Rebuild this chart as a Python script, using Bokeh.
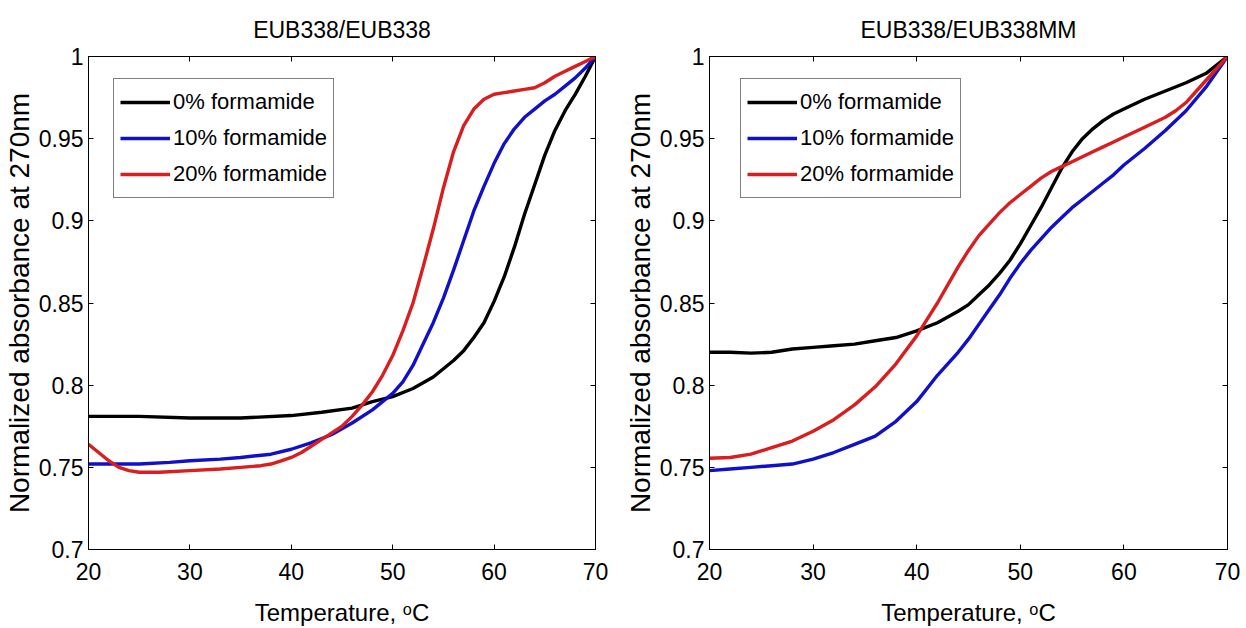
from bokeh.plotting import figure
from bokeh.layouts import row
from bokeh.models import FixedTicker, LinearAxis, Range1d, Legend, LegendItem
from bokeh.embed import file_html
from bokeh.resources import INLINE

# Temperature grid (deg C) and normalized absorbance at 270 nm
labels = ["0% formamide", "10% formamide", "20% formamide"]
colors = ["#000000", "#1010c8", "#d81e1e"]

# EUB338 / EUB338 (perfect match)
pm_temp_0 = [20, 25, 30, 35, 40, 43, 46, 48, 50, 52, 54, 55, 56, 57, 58, 59, 60,
             61, 62, 63, 64, 65, 66, 67, 68, 69, 70]
pm_abs_0 = [0.781, 0.781, 0.780, 0.780, 0.7815, 0.7835, 0.786, 0.790, 0.793, 0.798,
            0.805, 0.810, 0.815, 0.821, 0.829, 0.838, 0.851, 0.866, 0.884, 0.904,
            0.922, 0.940, 0.955, 0.967, 0.977, 0.988, 1.0]
pm_temp_10 = [20, 22, 25, 28, 30, 33, 35, 38, 40, 42, 44, 46, 48, 50, 51, 52, 53, 54,
              55, 56, 57, 58, 59, 60, 61, 62, 63, 64, 65, 66, 67, 68, 69, 70]
pm_abs_10 = [0.752, 0.752, 0.752, 0.753, 0.754, 0.755, 0.756, 0.758, 0.761, 0.765,
             0.770, 0.777, 0.785, 0.795, 0.802, 0.812, 0.825, 0.838, 0.853, 0.870,
             0.888, 0.906, 0.921, 0.935, 0.947, 0.956, 0.963, 0.968, 0.973, 0.977,
             0.982, 0.987, 0.993, 1.0]
pm_temp_20 = [20, 21, 22, 23, 24, 25, 27, 30, 33, 35, 37, 38, 39, 40, 41, 42, 43, 44,
              45, 46, 47, 48, 49, 50, 51, 52, 53, 54, 55, 56, 57, 58, 59, 60, 61, 62,
              63, 64, 65, 66, 67, 68, 69, 70]
pm_abs_20 = [0.764, 0.759, 0.754, 0.750, 0.748, 0.747, 0.747, 0.748, 0.749, 0.750,
             0.751, 0.752, 0.754, 0.756, 0.759, 0.763, 0.767, 0.771, 0.775, 0.781,
             0.788, 0.796, 0.806, 0.818, 0.833, 0.850, 0.872, 0.895, 0.920, 0.942,
             0.958, 0.968, 0.974, 0.977, 0.978, 0.979, 0.980, 0.981, 0.984, 0.988,
             0.991, 0.994, 0.997, 1.0]

# EUB338 / EUB338MM (mismatch)
mm_temp_0 = [20, 22, 24, 26, 28, 30, 32, 34, 36, 38, 40, 42, 44, 45, 46, 47, 48, 49,
             50, 51, 52, 53, 54, 55, 56, 57, 58, 59, 60, 62, 64, 66, 68, 70]
mm_abs_0 = [0.820, 0.820, 0.8195, 0.820, 0.822, 0.823, 0.824, 0.825, 0.827, 0.829,
            0.833, 0.838, 0.845, 0.849, 0.855, 0.861, 0.868, 0.876, 0.886, 0.897,
            0.908, 0.920, 0.932, 0.942, 0.950, 0.956, 0.961, 0.965, 0.968, 0.974,
            0.979, 0.984, 0.990, 1.0]
mm_temp_10 = [20, 22, 24, 26, 28, 30, 32, 34, 36, 38, 40, 41, 42, 43, 44, 45, 46, 47,
              48, 49, 50, 51, 52, 53, 54, 55, 56, 57, 58, 59, 60, 62, 64, 66, 68, 70]
mm_abs_10 = [0.748, 0.749, 0.750, 0.751, 0.752, 0.755, 0.759, 0.764, 0.769, 0.778,
             0.790, 0.798, 0.806, 0.813, 0.820, 0.828, 0.837, 0.846, 0.855, 0.865,
             0.874, 0.882, 0.889, 0.896, 0.902, 0.908, 0.913, 0.918, 0.923, 0.928,
             0.934, 0.944, 0.955, 0.967, 0.982, 1.0]
mm_temp_20 = [20, 22, 24, 26, 28, 30, 32, 34, 36, 38, 40, 41, 42, 43, 44, 45, 46, 47,
              48, 49, 50, 51, 52, 53, 54, 55, 56, 57, 58, 59, 60, 62, 64, 65, 66, 67,
              68, 69, 70]
mm_abs_20 = [0.7555, 0.756, 0.758, 0.762, 0.766, 0.772, 0.779, 0.788, 0.799, 0.813,
             0.830, 0.840, 0.850, 0.861, 0.872, 0.882, 0.891, 0.898, 0.905, 0.911,
             0.916, 0.921, 0.926, 0.930, 0.933, 0.936, 0.939, 0.942, 0.945, 0.948,
             0.951, 0.957, 0.963, 0.967, 0.972, 0.979, 0.986, 0.993, 1.0]

x_ticks = [20, 30, 40, 50, 60, 70]
y_ticks = [0.7, 0.75, 0.8, 0.85, 0.9, 0.95, 1.0]
y_tick_labels = ["0.7", "0.75", "0.8", "0.85", "0.9", "0.95", "1"]

FONT = "Liberation Sans"
FRAME_H = 493


def style_axis(ax, show_labels):
    ax.major_tick_in = 5
    ax.major_tick_out = 0
    ax.minor_tick_in = 0
    ax.minor_tick_out = 0
    ax.axis_line_color = "black"
    ax.major_tick_line_color = "black"
    ax.major_label_text_font = FONT
    ax.major_label_text_color = "black"
    ax.axis_label_text_font = FONT
    ax.axis_label_text_font_style = "normal"
    ax.axis_label_text_color = "black"
    if not show_labels:
        # mirrored axes carry tick marks only
        ax.major_label_text_color = None
        ax.major_label_text_font_size = "1px"
        ax.major_label_standoff = 0


def panel(title, series, frame_w, border_left, border_right, legend_dx):
    p = figure(frame_width=frame_w, frame_height=FRAME_H,
               x_range=Range1d(20, 70), y_range=Range1d(0.7, 1.0),
               output_backend="svg", toolbar_location=None, title=title,
               min_border_left=border_left, min_border_right=border_right,
               min_border_top=56, min_border_bottom=79)
    p.title.align = "center"
    p.title.text_font = FONT
    p.title.text_font_size = "23px"
    p.title.text_font_style = "normal"
    p.title.text_color = "black"
    p.title.standoff = 28
    p.grid.visible = False
    p.outline_line_color = "black"
    p.outline_line_alpha = 1.0
    p.background_fill_color = "white"
    p.border_fill_color = "white"

    xt = FixedTicker(ticks=x_ticks)
    yt = FixedTicker(ticks=y_ticks)
    overrides = {t: s for t, s in zip(y_ticks, y_tick_labels)}

    xa = p.xaxis[0]
    xa.ticker = xt
    xa.axis_label = "Temperature, ᵒC"
    xa.axis_label_text_font_size = "24px"
    xa.major_label_text_font_size = "23px"
    xa.major_label_standoff = 13
    xa.axis_label_standoff = 16
    style_axis(xa, True)

    ya = p.yaxis[0]
    ya.ticker = yt
    ya.major_label_overrides = overrides
    ya.axis_label = "Normalized absorbance at 270nm"
    ya.axis_label_text_font_size = "28px"
    ya.major_label_text_font_size = "23px"
    ya.major_label_standoff = 5
    ya.axis_label_standoff = 1
    style_axis(ya, True)

    top = LinearAxis(ticker=xt)
    style_axis(top, False)
    p.add_layout(top, "above")
    right = LinearAxis(ticker=yt)
    style_axis(right, False)
    p.add_layout(right, "right")

    items = []
    for (xs, ys), lab, col in zip(series, labels, colors):
        r = p.line(xs, ys, line_color=col, line_width=3.4)
        items.append(LegendItem(label=lab, renderers=[r]))

    leg = Legend(items=items, location=(legend_dx, FRAME_H - 26 - 116))
    leg.label_text_font = FONT
    leg.label_text_font_size = "22px"
    leg.label_text_color = "black"
    leg.glyph_width = 50
    leg.glyph_height = 34
    leg.label_height = 34
    leg.label_standoff = 3
    leg.spacing = 2
    leg.padding = 6
    leg.margin = 0
    leg.border_line_color = "black"
    leg.border_line_width = 1
    leg.background_fill_color = "white"
    leg.background_fill_alpha = 1.0
    p.add_layout(leg, "center")
    return p


left = panel("EUB338/EUB338",
             [(pm_temp_0, pm_abs_0), (pm_temp_10, pm_abs_10), (pm_temp_20, pm_abs_20)],
             507, 87, 26, 25)
right = panel("EUB338/EUB338MM",
              [(mm_temp_0, mm_abs_0), (mm_temp_10, mm_abs_10), (mm_temp_20, mm_abs_20)],
              518, 87, 21, 31)

layout = row(left, right)
open("out.html", "w").write(file_html(layout, INLINE))
